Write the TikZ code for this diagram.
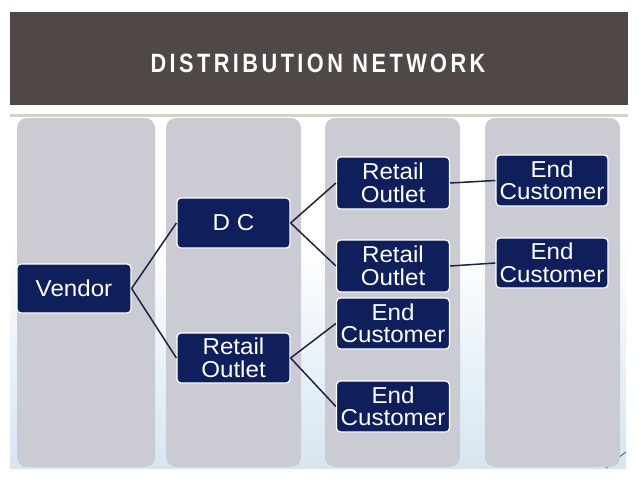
\documentclass[tikz,border=0pt]{standalone}
\usepackage{fontspec}
\usepackage{xcolor}
\usepackage{tikz}
\usetikzlibrary{positioning, arrows.meta, calc}
\newfontfamily\titlefont[FakeStretch=0.82,LetterSpace=13]{Liberation Sans Bold}
\newfontfamily\boxfont[FakeStretch=1.05]{Liberation Sans}
\definecolor{bandgrey}{RGB}{80,72,70}
\definecolor{rulegrey}{RGB}{212,212,196}
\definecolor{colgrey}{RGB}{203,203,211}
\definecolor{boxnavy}{RGB}{14,31,92}
\definecolor{linenavy}{RGB}{28,36,70}
\definecolor{paleblue}{RGB}{214,230,242}
\tikzset{
    column/.style={fill=colgrey, rounded corners=10pt},
    linkline/.style={draw=linenavy, line width=1.5pt}
}

\begin{document}
\begin{tikzpicture}[
    x=1pt, y=-1pt,
    level/.style={rectangle, rounded corners=4pt, draw=white, line width=1.2pt,
        fill=boxnavy, text=white, align=center, inner sep=0pt,
        minimum width=113pt, minimum height=50pt,
        font=\boxfont\fontsize{23}{22.5}\selectfont},
    edge/.style={linkline}
]
    \useasboundingbox (0,0) rectangle (638,479);
    \fill[white] (0,0) rectangle (638,479);

    % --- Title band ---
    \fill[bandgrey] (10,12) rectangle (628,105);
    \node[text=white, font=\titlefont\fontsize{26.5}{30}\selectfont] (title) at (318,63) {DISTRIBUTION NETWORK};
    \draw[rulegrey, line width=3pt] (10,115.5) -- (628,115.5);

    % --- Background and columns ---
    \shade[top color=white, bottom color=paleblue] (10,240) rectangle (626,468);
    \draw[linenavy!70, line width=1pt] (606,468) .. controls (614,462) and (620,456) .. (626,452);
    \foreach \l/\r in {17/155, 166/301, 325/460, 485/620}
        \fill[column] (\l,118) rectangle (\r,467);

    % --- Boxes ---
    \node[level, minimum width=114pt, minimum height=49pt] (vendor) at (74,288.5) {Vendor};
    \node[level] (dc) at (233.5,223) {D C};
    \node[level] (retail) at (233.5,358) {Retail\\Outlet};
    \node[level, minimum height=52pt] (outA) at (393,183) {Retail\\Outlet};
    \node[level, minimum height=52pt] (outB) at (393,266) {Retail\\Outlet};
    \node[level, minimum height=51pt] (endA) at (393,323.5) {End\\Customer};
    \node[level, minimum height=51pt] (endB) at (393,406.5) {End\\Customer};
    \node[level, minimum width=112pt, minimum height=51pt] (custA) at (552,180.5) {End\\Customer};
    \node[level, minimum width=112pt, minimum height=50pt] (custB) at (552,263) {End\\Customer};

    % --- Links ---
    \foreach \a/\b in {vendor/dc, vendor/retail, dc/outA, dc/outB, outA/custA, outB/custB, retail/endA, retail/endB}
        \draw[edge] (\a.east) -- (\b.west);

\end{tikzpicture}
\end{document}
